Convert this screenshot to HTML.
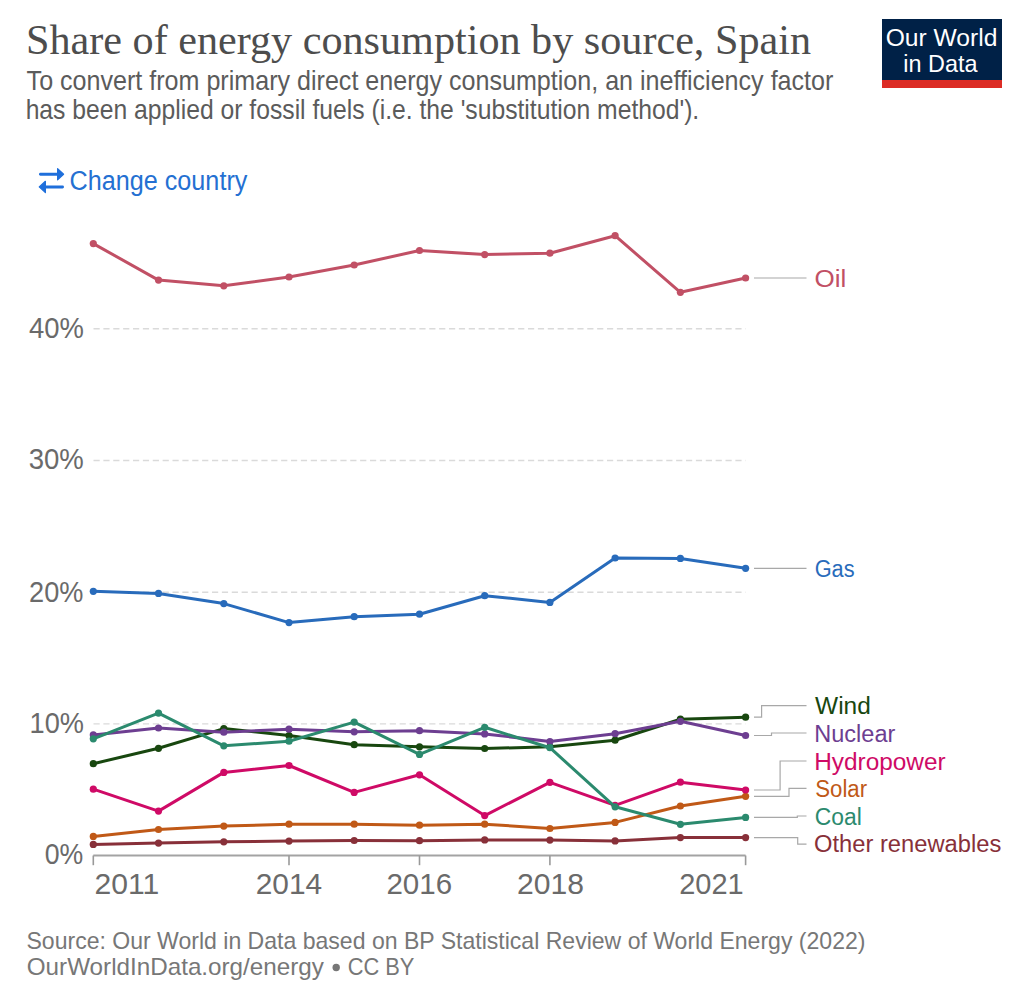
<!DOCTYPE html>
<html><head><meta charset="utf-8"><style>
html,body{margin:0;padding:0;background:#fff;}
body{width:1024px;height:989px;overflow:hidden;position:relative;}
svg{position:absolute;left:0;top:0;}
text{font-family:"Liberation Sans",sans-serif;}
</style></head><body>
<svg width="1024" height="989" viewBox="0 0 1024 989">
<rect x="882" y="19" width="120" height="61" fill="#002147"/>
<circle cx="336.2" cy="967.5" r="3.7" fill="#777777"/>
<rect x="882" y="80" width="120" height="8" fill="#dc2c25"/>
<g fill="#1f6fdb" stroke="#1f6fdb" stroke-width="1.2" stroke-linejoin="round">
<rect x="39" y="172.8" width="19.5" height="2.9" rx="1.4" stroke="none"/>
<path d="M57.6,168.6 L63.6,174.2 L57.6,179.8 Z"/>
<rect x="44.5" y="185.5" width="19.5" height="2.9" rx="1.4" stroke="none"/>
<path d="M45.4,181.3 L39.2,186.9 L45.4,192.5 Z"/>
</g>
<line x1="93.5" y1="328.8" x2="745.6" y2="328.8" stroke="#dadada" stroke-width="1.4" stroke-dasharray="6.2,3.675"/>
<line x1="93.5" y1="460.5" x2="745.6" y2="460.5" stroke="#dadada" stroke-width="1.4" stroke-dasharray="6.2,3.675"/>
<line x1="93.5" y1="592.2" x2="745.6" y2="592.2" stroke="#dadada" stroke-width="1.4" stroke-dasharray="6.2,3.675"/>
<line x1="93.5" y1="723.9" x2="745.6" y2="723.9" stroke="#dadada" stroke-width="1.4" stroke-dasharray="6.2,3.675"/>
<line x1="93.3" y1="855.5" x2="745.6" y2="855.5" stroke="#a3a3a3" stroke-width="1.8"/>
<line x1="93.3" y1="855.5" x2="93.3" y2="865.2" stroke="#999" stroke-width="1.6"/>
<line x1="289.0" y1="855.5" x2="289.0" y2="865.2" stroke="#999" stroke-width="1.6"/>
<line x1="419.5" y1="855.5" x2="419.5" y2="865.2" stroke="#999" stroke-width="1.6"/>
<line x1="549.9" y1="855.5" x2="549.9" y2="865.2" stroke="#999" stroke-width="1.6"/>
<line x1="745.6" y1="855.5" x2="745.6" y2="865.2" stroke="#999" stroke-width="1.6"/>
<polyline points="93.3,844.4 158.5,843.1 223.8,841.8 289.0,841.1 354.2,840.5 419.5,840.7 484.7,839.9 549.9,840.1 615.1,840.9 680.4,837.6 745.6,837.6" fill="none" stroke="#883039" stroke-width="3.0" stroke-linejoin="round" stroke-linecap="round"/>
<circle cx="93.3" cy="844.4" r="3.6" fill="#883039"/>
<circle cx="158.5" cy="843.1" r="3.6" fill="#883039"/>
<circle cx="223.8" cy="841.8" r="3.6" fill="#883039"/>
<circle cx="289.0" cy="841.1" r="3.6" fill="#883039"/>
<circle cx="354.2" cy="840.5" r="3.6" fill="#883039"/>
<circle cx="419.5" cy="840.7" r="3.6" fill="#883039"/>
<circle cx="484.7" cy="839.9" r="3.6" fill="#883039"/>
<circle cx="549.9" cy="840.1" r="3.6" fill="#883039"/>
<circle cx="615.1" cy="840.9" r="3.6" fill="#883039"/>
<circle cx="680.4" cy="837.6" r="3.6" fill="#883039"/>
<circle cx="745.6" cy="837.6" r="3.6" fill="#883039"/>
<polyline points="93.3,836.4 158.5,829.5 223.8,826.1 289.0,824.2 354.2,824.2 419.5,825.2 484.7,824.2 549.9,828.5 615.1,822.4 680.4,806.0 745.6,796.3" fill="none" stroke="#C05917" stroke-width="3.0" stroke-linejoin="round" stroke-linecap="round"/>
<circle cx="93.3" cy="836.4" r="3.6" fill="#C05917"/>
<circle cx="158.5" cy="829.5" r="3.6" fill="#C05917"/>
<circle cx="223.8" cy="826.1" r="3.6" fill="#C05917"/>
<circle cx="289.0" cy="824.2" r="3.6" fill="#C05917"/>
<circle cx="354.2" cy="824.2" r="3.6" fill="#C05917"/>
<circle cx="419.5" cy="825.2" r="3.6" fill="#C05917"/>
<circle cx="484.7" cy="824.2" r="3.6" fill="#C05917"/>
<circle cx="549.9" cy="828.5" r="3.6" fill="#C05917"/>
<circle cx="615.1" cy="822.4" r="3.6" fill="#C05917"/>
<circle cx="680.4" cy="806.0" r="3.6" fill="#C05917"/>
<circle cx="745.6" cy="796.3" r="3.6" fill="#C05917"/>
<polyline points="93.3,789.2 158.5,811.1 223.8,772.4 289.0,765.5 354.2,792.4 419.5,774.8 484.7,815.6 549.9,782.3 615.1,805.3 680.4,782.2 745.6,790.0" fill="none" stroke="#CF0A66" stroke-width="3.0" stroke-linejoin="round" stroke-linecap="round"/>
<circle cx="93.3" cy="789.2" r="3.6" fill="#CF0A66"/>
<circle cx="158.5" cy="811.1" r="3.6" fill="#CF0A66"/>
<circle cx="223.8" cy="772.4" r="3.6" fill="#CF0A66"/>
<circle cx="289.0" cy="765.5" r="3.6" fill="#CF0A66"/>
<circle cx="354.2" cy="792.4" r="3.6" fill="#CF0A66"/>
<circle cx="419.5" cy="774.8" r="3.6" fill="#CF0A66"/>
<circle cx="484.7" cy="815.6" r="3.6" fill="#CF0A66"/>
<circle cx="549.9" cy="782.3" r="3.6" fill="#CF0A66"/>
<circle cx="615.1" cy="805.3" r="3.6" fill="#CF0A66"/>
<circle cx="680.4" cy="782.2" r="3.6" fill="#CF0A66"/>
<circle cx="745.6" cy="790.0" r="3.6" fill="#CF0A66"/>
<polyline points="93.3,763.7 158.5,748.3 223.8,728.6 289.0,735.6 354.2,744.7 419.5,746.8 484.7,748.5 549.9,746.8 615.1,740.2 680.4,719.2 745.6,717.2" fill="none" stroke="#18470F" stroke-width="3.0" stroke-linejoin="round" stroke-linecap="round"/>
<circle cx="93.3" cy="763.7" r="3.6" fill="#18470F"/>
<circle cx="158.5" cy="748.3" r="3.6" fill="#18470F"/>
<circle cx="223.8" cy="728.6" r="3.6" fill="#18470F"/>
<circle cx="289.0" cy="735.6" r="3.6" fill="#18470F"/>
<circle cx="354.2" cy="744.7" r="3.6" fill="#18470F"/>
<circle cx="419.5" cy="746.8" r="3.6" fill="#18470F"/>
<circle cx="484.7" cy="748.5" r="3.6" fill="#18470F"/>
<circle cx="549.9" cy="746.8" r="3.6" fill="#18470F"/>
<circle cx="615.1" cy="740.2" r="3.6" fill="#18470F"/>
<circle cx="680.4" cy="719.2" r="3.6" fill="#18470F"/>
<circle cx="745.6" cy="717.2" r="3.6" fill="#18470F"/>
<polyline points="93.3,734.9 158.5,728.0 223.8,732.2 289.0,729.2 354.2,731.8 419.5,730.7 484.7,733.9 549.9,741.5 615.1,733.7 680.4,721.3 745.6,735.5" fill="none" stroke="#6D3E91" stroke-width="3.0" stroke-linejoin="round" stroke-linecap="round"/>
<circle cx="93.3" cy="734.9" r="3.6" fill="#6D3E91"/>
<circle cx="158.5" cy="728.0" r="3.6" fill="#6D3E91"/>
<circle cx="223.8" cy="732.2" r="3.6" fill="#6D3E91"/>
<circle cx="289.0" cy="729.2" r="3.6" fill="#6D3E91"/>
<circle cx="354.2" cy="731.8" r="3.6" fill="#6D3E91"/>
<circle cx="419.5" cy="730.7" r="3.6" fill="#6D3E91"/>
<circle cx="484.7" cy="733.9" r="3.6" fill="#6D3E91"/>
<circle cx="549.9" cy="741.5" r="3.6" fill="#6D3E91"/>
<circle cx="615.1" cy="733.7" r="3.6" fill="#6D3E91"/>
<circle cx="680.4" cy="721.3" r="3.6" fill="#6D3E91"/>
<circle cx="745.6" cy="735.5" r="3.6" fill="#6D3E91"/>
<polyline points="93.3,738.8 158.5,713.1 223.8,745.8 289.0,741.2 354.2,722.1 419.5,754.4 484.7,727.3 549.9,747.7 615.1,806.8 680.4,824.3 745.6,817.4" fill="none" stroke="#2B8A6E" stroke-width="3.0" stroke-linejoin="round" stroke-linecap="round"/>
<circle cx="93.3" cy="738.8" r="3.6" fill="#2B8A6E"/>
<circle cx="158.5" cy="713.1" r="3.6" fill="#2B8A6E"/>
<circle cx="223.8" cy="745.8" r="3.6" fill="#2B8A6E"/>
<circle cx="289.0" cy="741.2" r="3.6" fill="#2B8A6E"/>
<circle cx="354.2" cy="722.1" r="3.6" fill="#2B8A6E"/>
<circle cx="419.5" cy="754.4" r="3.6" fill="#2B8A6E"/>
<circle cx="484.7" cy="727.3" r="3.6" fill="#2B8A6E"/>
<circle cx="549.9" cy="747.7" r="3.6" fill="#2B8A6E"/>
<circle cx="615.1" cy="806.8" r="3.6" fill="#2B8A6E"/>
<circle cx="680.4" cy="824.3" r="3.6" fill="#2B8A6E"/>
<circle cx="745.6" cy="817.4" r="3.6" fill="#2B8A6E"/>
<polyline points="93.3,591.3 158.5,593.4 223.8,603.6 289.0,622.6 354.2,616.7 419.5,614.2 484.7,595.7 549.9,602.4 615.1,558.0 680.4,558.4 745.6,568.3" fill="none" stroke="#286BBB" stroke-width="3.0" stroke-linejoin="round" stroke-linecap="round"/>
<circle cx="93.3" cy="591.3" r="3.6" fill="#286BBB"/>
<circle cx="158.5" cy="593.4" r="3.6" fill="#286BBB"/>
<circle cx="223.8" cy="603.6" r="3.6" fill="#286BBB"/>
<circle cx="289.0" cy="622.6" r="3.6" fill="#286BBB"/>
<circle cx="354.2" cy="616.7" r="3.6" fill="#286BBB"/>
<circle cx="419.5" cy="614.2" r="3.6" fill="#286BBB"/>
<circle cx="484.7" cy="595.7" r="3.6" fill="#286BBB"/>
<circle cx="549.9" cy="602.4" r="3.6" fill="#286BBB"/>
<circle cx="615.1" cy="558.0" r="3.6" fill="#286BBB"/>
<circle cx="680.4" cy="558.4" r="3.6" fill="#286BBB"/>
<circle cx="745.6" cy="568.3" r="3.6" fill="#286BBB"/>
<polyline points="93.3,243.6 158.5,280.1 223.8,285.8 289.0,277.0 354.2,265.0 419.5,250.5 484.7,254.6 549.9,253.2 615.1,235.7 680.4,292.3 745.6,278.0" fill="none" stroke="#C15065" stroke-width="3.0" stroke-linejoin="round" stroke-linecap="round"/>
<circle cx="93.3" cy="243.6" r="3.6" fill="#C15065"/>
<circle cx="158.5" cy="280.1" r="3.6" fill="#C15065"/>
<circle cx="223.8" cy="285.8" r="3.6" fill="#C15065"/>
<circle cx="289.0" cy="277.0" r="3.6" fill="#C15065"/>
<circle cx="354.2" cy="265.0" r="3.6" fill="#C15065"/>
<circle cx="419.5" cy="250.5" r="3.6" fill="#C15065"/>
<circle cx="484.7" cy="254.6" r="3.6" fill="#C15065"/>
<circle cx="549.9" cy="253.2" r="3.6" fill="#C15065"/>
<circle cx="615.1" cy="235.7" r="3.6" fill="#C15065"/>
<circle cx="680.4" cy="292.3" r="3.6" fill="#C15065"/>
<circle cx="745.6" cy="278.0" r="3.6" fill="#C15065"/>
<path d="M754,278 H806.5" fill="none" stroke="#a8a8a8" stroke-width="1.2"/>
<path d="M754,568.3 H806.5" fill="none" stroke="#a8a8a8" stroke-width="1.2"/>
<path d="M754,717.2 H761.6 V705.6 H806.5" fill="none" stroke="#a8a8a8" stroke-width="1.2"/>
<path d="M754,735.5 H771.5 V733.0 H806.5" fill="none" stroke="#a8a8a8" stroke-width="1.2"/>
<path d="M754,790 H780.1 V761.0 H806.5" fill="none" stroke="#a8a8a8" stroke-width="1.2"/>
<path d="M754,796.3 H789 V788.4 H806.5" fill="none" stroke="#a8a8a8" stroke-width="1.2"/>
<path d="M754,817.4 H797.3 V816.0 H806.5" fill="none" stroke="#a8a8a8" stroke-width="1.2"/>
<path d="M754,837.6 H797.7 V844.1 H806.5" fill="none" stroke="#a8a8a8" stroke-width="1.2"/>
<text id="title" x="26.02" y="53.5" fill="#4d4d4d" style="font-family:'Liberation Serif',serif;font-size:43px" textLength="785.00" lengthAdjust="spacingAndGlyphs">Share of energy consumption by source, Spain</text>
<text id="sub1" x="26.60" y="89.6" fill="#5b5b5b" style="font-family:'Liberation Sans',sans-serif;font-size:27.2px" textLength="806.77" lengthAdjust="spacingAndGlyphs">To convert from primary direct energy consumption, an inefficiency factor</text>
<text id="sub2" x="25.65" y="119.4" fill="#5b5b5b" style="font-family:'Liberation Sans',sans-serif;font-size:27.2px" textLength="673.58" lengthAdjust="spacingAndGlyphs">has been applied or fossil fuels (i.e. the 'substitution method').</text>
<text id="cc" x="69.56" y="190.3" fill="#2470d2" style="font-family:'Liberation Sans',sans-serif;font-size:27px" textLength="177.81" lengthAdjust="spacingAndGlyphs">Change country</text>
<text id="logo1" x="885.69" y="46.2" fill="#ffffff" style="font-family:'Liberation Sans',sans-serif;font-size:24.8px" textLength="111.73" lengthAdjust="spacingAndGlyphs">Our World</text>
<text id="logo2" x="903.35" y="72.2" fill="#ffffff" style="font-family:'Liberation Sans',sans-serif;font-size:24.8px" textLength="74.15" lengthAdjust="spacingAndGlyphs">in Data</text>
<text id="y40" x="29.05" y="337.6" fill="#6a6a6a" style="font-family:'Liberation Sans',sans-serif;font-size:29.5px" textLength="54.92" lengthAdjust="spacingAndGlyphs">40%</text>
<text id="y30" x="28.66" y="468.8" fill="#6a6a6a" style="font-family:'Liberation Sans',sans-serif;font-size:29.5px" textLength="55.13" lengthAdjust="spacingAndGlyphs">30%</text>
<text id="y20" x="29.08" y="601.6" fill="#6a6a6a" style="font-family:'Liberation Sans',sans-serif;font-size:29.5px" textLength="54.29" lengthAdjust="spacingAndGlyphs">20%</text>
<text id="y10" x="29.52" y="733.0" fill="#6a6a6a" style="font-family:'Liberation Sans',sans-serif;font-size:29.5px" textLength="54.44" lengthAdjust="spacingAndGlyphs">10%</text>
<text id="y0" x="44.65" y="863.5" fill="#6a6a6a" style="font-family:'Liberation Sans',sans-serif;font-size:29.5px" textLength="38.57" lengthAdjust="spacingAndGlyphs">0%</text>
<text id="x2011" x="94.58" y="893.8" fill="#6a6a6a" style="font-family:'Liberation Sans',sans-serif;font-size:29.5px" textLength="64.74" lengthAdjust="spacingAndGlyphs">2011</text>
<text id="x2014" x="255.78" y="893.8" fill="#6a6a6a" style="font-family:'Liberation Sans',sans-serif;font-size:29.5px" textLength="66.38" lengthAdjust="spacingAndGlyphs">2014</text>
<text id="x2016" x="386.43" y="893.8" fill="#6a6a6a" style="font-family:'Liberation Sans',sans-serif;font-size:29.5px" textLength="65.71" lengthAdjust="spacingAndGlyphs">2016</text>
<text id="x2018" x="517.00" y="893.8" fill="#6a6a6a" style="font-family:'Liberation Sans',sans-serif;font-size:29.5px" textLength="66.98" lengthAdjust="spacingAndGlyphs">2018</text>
<text id="x2021" x="679.21" y="893.8" fill="#6a6a6a" style="font-family:'Liberation Sans',sans-serif;font-size:29.5px" textLength="64.50" lengthAdjust="spacingAndGlyphs">2021</text>
<text id="lOil" x="814.49" y="287.2" fill="#C15065" style="font-family:'Liberation Sans',sans-serif;font-size:23.5px" textLength="31.77" lengthAdjust="spacingAndGlyphs">Oil</text>
<text id="lGas" x="814.64" y="576.7" fill="#286BBB" style="font-family:'Liberation Sans',sans-serif;font-size:23.5px" textLength="39.93" lengthAdjust="spacingAndGlyphs">Gas</text>
<text id="lWind" x="815.09" y="714.0" fill="#18470F" style="font-family:'Liberation Sans',sans-serif;font-size:23.5px" textLength="55.71" lengthAdjust="spacingAndGlyphs">Wind</text>
<text id="lNuclear" x="814.35" y="741.6" fill="#6D3E91" style="font-family:'Liberation Sans',sans-serif;font-size:23.5px" textLength="80.95" lengthAdjust="spacingAndGlyphs">Nuclear</text>
<text id="lHydro" x="814.17" y="769.6" fill="#CF0A66" style="font-family:'Liberation Sans',sans-serif;font-size:23.5px" textLength="131.54" lengthAdjust="spacingAndGlyphs">Hydropower</text>
<text id="lSolar" x="815.21" y="797.0" fill="#C05917" style="font-family:'Liberation Sans',sans-serif;font-size:23.5px" textLength="51.90" lengthAdjust="spacingAndGlyphs">Solar</text>
<text id="lCoal" x="814.87" y="824.9" fill="#2B8A6E" style="font-family:'Liberation Sans',sans-serif;font-size:23.5px" textLength="46.96" lengthAdjust="spacingAndGlyphs">Coal</text>
<text id="lOther" x="814.07" y="852.0" fill="#883039" style="font-family:'Liberation Sans',sans-serif;font-size:23.5px" textLength="187.20" lengthAdjust="spacingAndGlyphs">Other renewables</text>
<text id="foot1" x="26.48" y="949.0" fill="#777777" style="font-family:'Liberation Sans',sans-serif;font-size:23.2px" textLength="838.99" lengthAdjust="spacingAndGlyphs">Source: Our World in Data based on BP Statistical Review of World Energy (2022)</text>
<text id="foot2" x="26.79" y="974.8" fill="#777777" style="font-family:'Liberation Sans',sans-serif;font-size:23.2px" textLength="297.12" lengthAdjust="spacingAndGlyphs">OurWorldInData.org/energy</text>
<text id="foot3" x="347.67" y="974.8" fill="#777777" style="font-family:'Liberation Sans',sans-serif;font-size:23.2px" textLength="66.74" lengthAdjust="spacingAndGlyphs">CC BY</text>
</svg>
</body></html>
